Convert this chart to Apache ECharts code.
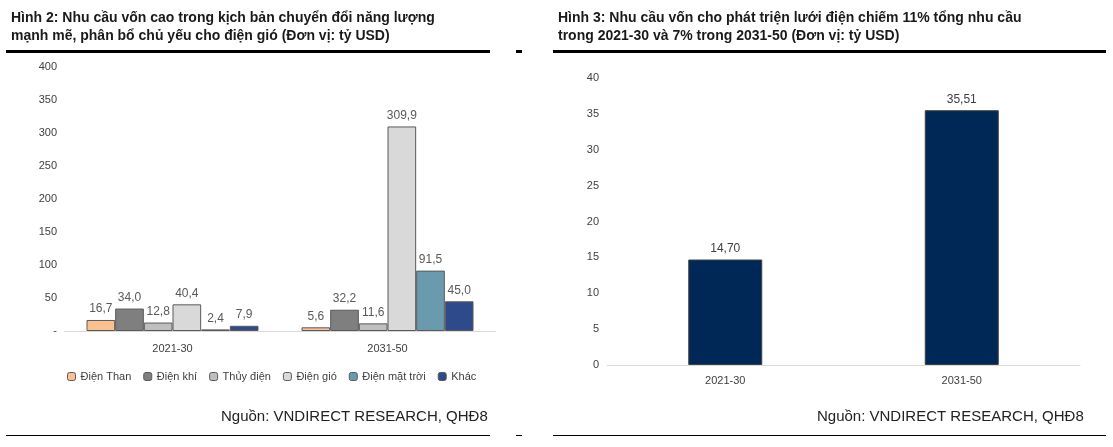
<!DOCTYPE html>
<html><head><meta charset="utf-8">
<script src="https://cdn.jsdelivr.net/npm/echarts@6/dist/echarts.min.js"></script>
<style>body{margin:0;background:#fff}#c{width:1113px;height:447px}</style>
</head><body><div id="c"></div>
<script>
var periods = ['2021-30', '2031-50'];
var leftNames = ['Điện Than', 'Điện khí', 'Thủy điện', 'Điện gió', 'Điện mặt trời', 'Khác'];
var leftColors = ['#FAC090', '#7F7F7F', '#BFBFBF', '#D9D9D9', '#6A9AAE', '#2E4A8B'];
var leftValues = [
  [16.7, 5.6],
  [34.0, 32.2],
  [12.8, 11.6],
  [40.4, 309.9],
  [2.4, 91.5],
  [7.9, 45.0]
];
var gridValues = [14.70, 35.51];

var myChart = echarts.init(document.getElementById('c'), null, { renderer: 'canvas' });
var font = 'Liberation Sans, Arial, sans-serif';
function comma(v, d) { return v.toFixed(d).replace('.', ','); }

var series = leftNames.map(function (n, i) {
  return {
    name: n, type: 'bar', xAxisIndex: 0, yAxisIndex: 0,
    data: leftValues[i],
    barGap: '0%', barCategoryGap: '20%',
    itemStyle: { color: leftColors[i], borderColor: '#595959', borderWidth: 1 },
    label: { show: true, position: 'top', color: '#595959', fontSize: 12, fontFamily: font,
      formatter: function (p) { return comma(p.value, 1); } }
  };
});
series.push({
  name: 'grid', type: 'bar', xAxisIndex: 1, yAxisIndex: 1, data: gridValues,
  barWidth: 74, itemStyle: { color: '#002856', borderColor: '#404040', borderWidth: 1 },
  label: { show: true, position: 'top', color: '#404040', fontSize: 12, fontFamily: font,
    formatter: function (p) { return comma(p.value, 2); } }
});

var axisLabelStyle = { color: '#404040', fontSize: 11, fontFamily: font };
var option = {
  animation: false,
  textStyle: { fontFamily: font },
  title: [
    { text: 'Hình 2: Nhu cầu vốn cao trong kịch bản chuyển đổi năng lượng\nmạnh mẽ, phân bổ chủ yếu cho điện gió (Đơn vị: tỷ USD)',
      left: 6, top: 4, textStyle: { fontSize: 14, fontWeight: 'bold', color: '#1a1a1a', lineHeight: 18 } },
    { text: 'Hình 3: Nhu cầu vốn cho phát triện lưới điện chiếm 11% tổng nhu cầu\ntrong 2021-30 và 7% trong 2031-50 (Đơn vị: tỷ USD)',
      left: 553, top: 4, textStyle: { fontSize: 14, fontWeight: 'bold', color: '#1a1a1a', lineHeight: 18 } },
    { text: 'Nguồn: VNDIRECT RESEARCH, QHĐ8', left: 216, top: 404,
      textStyle: { fontSize: 15, fontWeight: 'normal', color: '#222' } },
    { text: 'Nguồn: VNDIRECT RESEARCH, QHĐ8', left: 812, top: 404,
      textStyle: { fontSize: 15, fontWeight: 'normal', color: '#222' } }
  ],
  legend: {
    data: leftNames, left: 62, top: 366, itemWidth: 8, itemHeight: 8, itemGap: 12,
    textStyle: { color: '#404040', fontSize: 11 },
    itemStyle: { borderColor: '#595959', borderWidth: 1 }
  },
  grid: [
    { left: 65, right: 1113 - 495, top: 67, bottom: 447 - 331 },
    { left: 607, right: 1113 - 1080, top: 78, bottom: 447 - 365 }
  ],
  xAxis: [
    { type: 'category', gridIndex: 0, data: periods,
      axisLine: { lineStyle: { color: '#D9D9D9' } }, axisTick: { show: false },
      axisLabel: Object.assign({ margin: 12 }, axisLabelStyle) },
    { type: 'category', gridIndex: 1, data: periods,
      axisLine: { lineStyle: { color: '#D9D9D9' } }, axisTick: { show: false },
      axisLabel: Object.assign({ margin: 10 }, axisLabelStyle) }
  ],
  yAxis: [
    { type: 'value', gridIndex: 0, min: 0, max: 400, interval: 50,
      splitLine: { show: false }, axisLine: { show: false },
      axisLabel: Object.assign({ formatter: function (v) { return v === 0 ? '-' : v; } }, axisLabelStyle) },
    { type: 'value', gridIndex: 1, min: 0, max: 40, interval: 5,
      splitLine: { show: false }, axisLine: { show: false },
      axisLabel: axisLabelStyle }
  ],
  graphic: [
    { type: 'rect', shape: { x: 6, y: 50, width: 484, height: 3 }, style: { fill: '#000' } },
    { type: 'rect', shape: { x: 516, y: 50, width: 6, height: 3 }, style: { fill: '#000' } },
    { type: 'rect', shape: { x: 553, y: 50, width: 553, height: 3 }, style: { fill: '#000' } },
    { type: 'rect', shape: { x: 6, y: 435, width: 484, height: 1 }, style: { fill: '#000' } },
    { type: 'rect', shape: { x: 516, y: 435, width: 6, height: 1 }, style: { fill: '#000' } },
    { type: 'rect', shape: { x: 553, y: 435, width: 553, height: 1 }, style: { fill: '#000' } }
  ],
  series: series
};
myChart.setOption(option);
window.addEventListener('resize', myChart.resize);
</script></body></html>
